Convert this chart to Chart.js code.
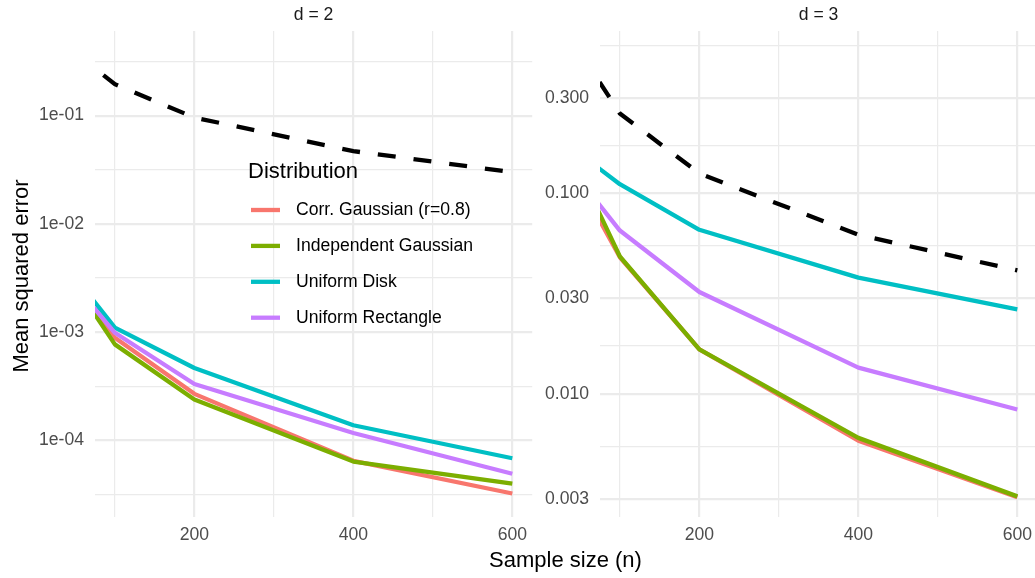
<!DOCTYPE html>
<html><head><meta charset="utf-8">
<script src="https://cdn.jsdelivr.net/npm/chart.js@4.4.1/dist/chart.umd.min.js"></script>
<style>
html,body{margin:0;padding:0;background:#fff;overflow:hidden;width:1035px;height:578px;position:relative;}
#c1{position:absolute;left:0;top:0;}
#c2{position:absolute;left:535px;top:0;}
#xt{position:absolute;left:365.5px;width:400px;top:549px;text-align:center;font-family:'Liberation Sans';font-size:22px;line-height:22px;color:#000;white-space:nowrap;}
</style></head><body>
<canvas id="c1" width="535" height="578"></canvas>
<canvas id="c2" width="505" height="578"></canvas>
<div id="xt">Sample size (n)</div>
<script>
// ---- data ----
const sampleSizes = [50, 100, 200, 400, 600];
const seriesNames = ['Corr. Gaussian (r=0.8)', 'Independent Gaussian', 'Uniform Disk', 'Uniform Rectangle'];
const seriesColors = ['#F8766D', '#7CAE00', '#00BFC4', '#C77CFF'];
const panelTitles = ['d = 2', 'd = 3'];

// d = 2
const d2Corr  = [2.62e-3, 8.88e-4, 2.69e-4, 6.47e-5, 3.23e-5];
const d2Indep = [2.74e-3, 7.71e-4, 2.39e-4, 6.38e-5, 3.98e-5];
const d2Disk  = [3.22e-3, 1.10e-3, 4.66e-4, 1.38e-4, 6.84e-5];
const d2Rect  = [2.70e-3, 9.86e-4, 3.32e-4, 1.17e-4, 4.92e-5];
const d2Ref   = [0.38, 0.195, 0.096, 0.047, 0.030];

// d = 3
const d3Corr  = [0.110, 0.0480, 0.01667, 0.00584, 0.00305];
const d3Indep = [0.1268, 0.0484, 0.01667, 0.00603, 0.00308];
const d3Disk  = [0.157, 0.111, 0.0658, 0.0380, 0.0264];
const d3Rect  = [0.116, 0.0652, 0.0322, 0.0135, 0.00835];
const d3Ref   = [0.508, 0.250, 0.1257, 0.0621, 0.0413];

// ticks
const xTicks = [100, 200, 300, 400, 500, 600];
const xTickLabels = ['', '200', '', '400', '', '600'];
const d2YTicks = [3.162e-5, 1e-4, 3.162e-4, 1e-3, 3.162e-3, 1e-2, 3.162e-2, 1e-1, 3.162e-1];
const d2YLabels = ['', '1e-04', '', '1e-03', '', '1e-02', '', '1e-01', ''];
const d3YTicks = [0.003, 0.005477, 0.01, 0.01732, 0.03, 0.05477, 0.1, 0.1732, 0.3, 0.5477];
const d3YLabels = ['0.003', '', '0.010', '', '0.030', '', '0.100', '', '0.300', ''];

// ---- rendering ----
const FONT = 'Liberation Sans';
const GRID = '#EBEBEB';

function pts(vals) { return sampleSizes.map((n, i) => ({ x: n, y: vals[i] })); }

function datasets(series, ref) {
  const ds = series.map((vals, i) => ({
    label: seriesNames[i], data: pts(vals), borderColor: seriesColors[i],
    borderWidth: 4.3, pointRadius: 0, tension: 0, fill: false,
    borderCapStyle: 'butt', borderJoinStyle: 'round', order: 10 - i, clip: 0
  }));
  ds.push({
    label: 'reference', data: pts(ref), borderColor: '#000000', borderWidth: 4.3,
    borderDash: [18, 18], pointRadius: 0, tension: 0, fill: false,
    borderCapStyle: 'butt', order: 0, clip: 0
  });
  return ds;
}

const textPlugin = {
  id: 'panelText',
  afterDraw(chart, args, opts) {
    const ctx = chart.ctx, ca = chart.chartArea;
    ctx.save();
    ctx.fillStyle = '#1A1A1A';
    ctx.font = '17.6px "' + FONT + '"';
    ctx.textAlign = 'center'; ctx.textBaseline = 'alphabetic';
    ctx.fillText(opts.title, (ca.left + ca.right) / 2, 20);
    if (opts.legend) {
      // y axis title
      ctx.save();
      ctx.fillStyle = '#000';
      ctx.font = '22px "' + FONT + '"';
      ctx.translate(28, 276);
      ctx.rotate(-Math.PI / 2);
      ctx.textAlign = 'center';
      ctx.fillText('Mean squared error', 0, 0);
      ctx.restore();
      // legend
      ctx.fillStyle = '#000';
      ctx.font = '22px "' + FONT + '"';
      ctx.textAlign = 'left'; ctx.textBaseline = 'alphabetic';
      ctx.fillText('Distribution', 248, 178);
      ctx.font = '17.6px "' + FONT + '"';
      ctx.textBaseline = 'middle';
      seriesNames.forEach((name, i) => {
        const y = 210 + i * 35.9;
        ctx.strokeStyle = seriesColors[i];
        ctx.lineWidth = 4.3; ctx.lineCap = 'butt';
        ctx.beginPath(); ctx.moveTo(251, y); ctx.lineTo(280, y); ctx.stroke();
        ctx.fillStyle = '#000';
        ctx.fillText(name, 296, y);
      });
    }
    ctx.restore();
  }
};

function makeChart(canvas, cfg) {
  return new Chart(canvas, {
    type: 'line',
    data: { datasets: datasets(cfg.series, cfg.ref) },
    options: {
      responsive: false, animation: false, devicePixelRatio: 1,
      layout: { padding: { top: 31, left: 0, right: 0, bottom: 0 } },
      plugins: {
        legend: { display: false }, tooltip: { enabled: false }, title: { display: false },
        panelText: { title: cfg.title, legend: cfg.legend }
      },
      scales: {
        x: {
          type: 'linear', min: 75, max: 625, bounds: 'data',
          afterBuildTicks: s => { s.ticks = xTicks.map(v => ({ value: v })); },
          afterFit: s => { s.height = 61; },
          ticks: {
            autoSkip: false, maxRotation: 0, minRotation: 0, padding: 8,
            color: '#4D4D4D', font: { family: FONT, size: 17.6 },
            callback: (v, i) => xTickLabels[i]
          },
          grid: { color: GRID, drawTicks: false, lineWidth: c => (xTickLabels[c.index] ? 2.2 : 1.2) },
          border: { display: false }
        },
        y: {
          type: 'logarithmic', min: cfg.yMin, max: cfg.yMax, bounds: 'data',
          afterBuildTicks: s => { s.ticks = cfg.yTicks.map(v => ({ value: v })); },
          afterFit: s => { s.width = cfg.yWidth; },
          ticks: {
            autoSkip: false, padding: 11,
            color: '#4D4D4D', font: { family: FONT, size: 17.6 },
            callback: (v, i) => cfg.yLabels[i]
          },
          grid: { color: GRID, drawTicks: false, lineWidth: c => (cfg.yLabels[c.index] ? 2.2 : 1.2) },
          border: { display: false }
        }
      }
    },
    plugins: [textPlugin]
  });
}

makeChart(document.getElementById('c1'), {
  series: [d2Corr, d2Indep, d2Disk, d2Rect], ref: d2Ref,
  yMin: 1.96e-5, yMax: 0.605, yTicks: d2YTicks, yLabels: d2YLabels,
  yWidth: 95, title: panelTitles[0], legend: true
});
makeChart(document.getElementById('c2'), {
  series: [d3Corr, d3Indep, d3Disk, d3Rect], ref: d3Ref,
  yMin: 0.00243, yMax: 0.645, yTicks: d3YTicks, yLabels: d3YLabels,
  yWidth: 65, title: panelTitles[1], legend: false
});
</script>
</body></html>
